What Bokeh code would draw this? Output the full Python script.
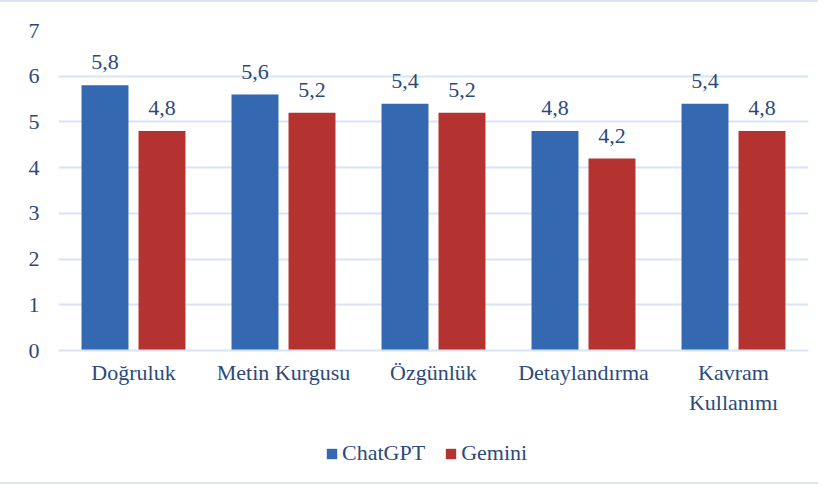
from bokeh.plotting import figure
from bokeh.layouts import column
from bokeh.models import ColumnDataSource, LabelSet, Legend, LegendItem, FixedTicker
from bokeh.transform import dodge
from bokeh.embed import file_html
from bokeh.resources import INLINE

categories = ["Doğruluk", "Metin Kurgusu", "Özgünlük", "Detaylandırma", "Kavram\nKullanımı"]
series_names = ["ChatGPT", "Gemini"]
chatgpt = [5.8, 5.6, 5.4, 4.8, 5.4]
gemini = [4.8, 5.2, 5.2, 4.2, 4.8]
y_ticks = [0, 1, 2, 3, 4, 5, 6, 7]

FONT = "Liberation Serif"
TXT = "#2B4A7C"
GRID = "#D9E4F3"
BORDER = "2px solid #DCE6F3"
BLUE = "#3469B1"
RED = "#B43331"

src = ColumnDataSource(dict(
    cat=categories,
    chatgpt=chatgpt,
    gemini=gemini,
    chatgpt_lbl=[f"{v:.1f}".replace(".", ",") for v in chatgpt],
    gemini_lbl=[f"{v:.1f}".replace(".", ",") for v in gemini],
))

p = figure(x_range=categories, y_range=(0, 7), width=818, height=418,
           output_backend="svg", toolbar_location=None,
           min_border_left=58, min_border_right=10, min_border_top=28, min_border_bottom=70)
p.styles = {"border-top": BORDER}
p.outline_line_color = None
p.background_fill_color = "white"

p.vbar(x=dodge("cat", -0.19, range=p.x_range), top="chatgpt", width=0.313,
       source=src, fill_color=BLUE, line_color=None)
p.vbar(x=dodge("cat", 0.19, range=p.x_range), top="gemini", width=0.313,
       source=src, fill_color=RED, line_color=None)

for col, off in (("chatgpt", -0.19), ("gemini", 0.19)):
    lbl = LabelSet(x=dodge("cat", off, range=p.x_range), y=col, text=col + "_lbl",
                   source=src, text_align="center", text_baseline="middle",
                   y_offset=23, text_font=FONT, text_font_size="22px", text_color=TXT)
    p.add_layout(lbl)

p.xgrid.grid_line_color = None
p.ygrid.grid_line_color = GRID
p.ygrid.grid_line_width = 2
p.yaxis.ticker = FixedTicker(ticks=y_ticks)
p.yaxis.axis_line_color = None
p.yaxis.major_tick_line_color = None
p.yaxis.minor_tick_line_color = None
p.yaxis.major_label_standoff = 13
p.yaxis.major_label_text_font = FONT
p.yaxis.major_label_text_font_size = "22px"
p.yaxis.major_label_text_color = TXT

ax1 = p.xaxis[0]
ax1.axis_line_color = GRID
ax1.axis_line_width = 2
ax1.major_tick_line_color = None
ax1.major_tick_out = 0
ax1.major_label_standoff = 9
ax1.major_label_text_font = FONT
ax1.major_label_text_font_size = "22px"
ax1.major_label_text_color = TXT

# legend strip below the chart (zero-height swatch renderers carry the legend glyphs)
q = figure(width=818, height=66, output_backend="svg", toolbar_location=None,
           x_axis_type=None, y_axis_type=None,
           min_border_left=0, min_border_right=0, min_border_top=0, min_border_bottom=0)
q.styles = {"border-bottom": BORDER}
q.outline_line_color = None
q.xgrid.grid_line_color = None
q.ygrid.grid_line_color = None
lr1 = q.vbar(x=[0], bottom=[0], top=[0], width=0.5, fill_color=BLUE, line_color=None)
lr2 = q.vbar(x=[0], bottom=[0], top=[0], width=0.5, fill_color=RED, line_color=None)

legend = Legend(items=[LegendItem(label=series_names[0], renderers=[lr1]),
                       LegendItem(label=series_names[1], renderers=[lr2])],
                orientation="horizontal", location=(267, 18),
                padding=0, margin=0, spacing=19, label_standoff=4,
                glyph_width=13, glyph_height=13,
                label_text_font=FONT, label_text_font_size="22px", label_text_color=TXT,
                border_line_color=None, background_fill_alpha=0)
q.add_layout(legend, "center")

layout = column(p, q, spacing=0)
open("out.html", "w").write(file_html(layout, INLINE))
